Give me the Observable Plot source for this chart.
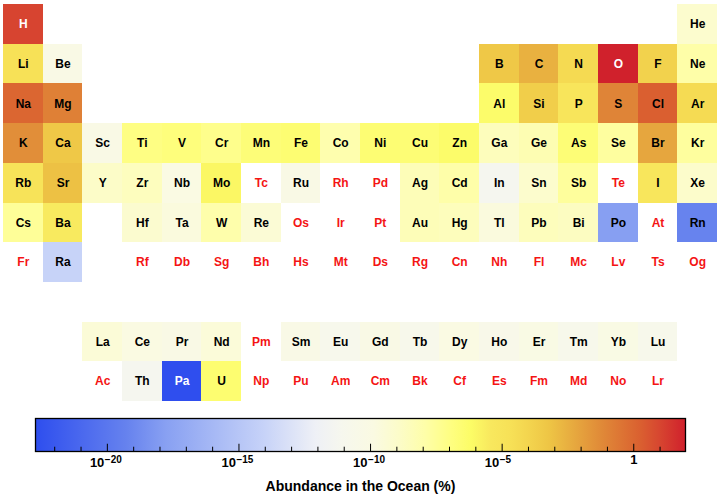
<!DOCTYPE html>
<html><head><meta charset="utf-8">
<script src="https://cdn.jsdelivr.net/npm/d3@7"></script>
<script src="https://cdn.jsdelivr.net/npm/@observablehq/plot@0.6"></script>
<style>
html,body{margin:0;padding:0;background:#fff;}
#chart svg{display:block;}
</style></head><body><div id="chart"></div>
<script>
// Element symbols in atomic-number order
const symbols = ["H","He","Li","Be","B","C","N","O","F","Ne","Na","Mg","Al","Si","P","S","Cl","Ar",
"K","Ca","Sc","Ti","V","Cr","Mn","Fe","Co","Ni","Cu","Zn","Ga","Ge","As","Se","Br","Kr",
"Rb","Sr","Y","Zr","Nb","Mo","Tc","Ru","Rh","Pd","Ag","Cd","In","Sn","Sb","Te","I","Xe",
"Cs","Ba","La","Ce","Pr","Nd","Pm","Sm","Eu","Gd","Tb","Dy","Ho","Er","Tm","Yb","Lu",
"Hf","Ta","W","Re","Os","Ir","Pt","Au","Hg","Tl","Pb","Bi","Po","At","Rn",
"Fr","Ra","Ac","Th","Pa","U","Np","Pu","Am","Cm","Bk","Cf","Es","Fm","Md","No","Lr",
"Rf","Db","Sg","Bh","Hs","Mt","Ds","Rg","Cn","Nh","Fl","Mc","Lv","Ts","Og"];

// Abundance in the ocean (%), null = no data
const abundance = [11, 7.2e-10, 1.8e-5, 6e-11, 4.4e-4, 2.8e-3, 5e-5, 86, 1.3e-4, 1.2e-8,
1.1, 0.13, 5e-7, 2.2e-4, 7e-6, 0.093, 1.9, 4.5e-5,
0.042, 4.2e-4, 6e-11, 1e-7, 1.5e-7, 6e-8, 2e-7, 3e-7, 8e-9, 2.8e-7, 2.5e-7, 5e-7, 3e-9, 6e-9, 2.3e-7, 2e-8, 6.7e-3, 2.1e-8,
1.2e-5, 8.1e-4, 1.3e-9, 2.6e-9, 1e-10, 1e-6, null, 7e-11, null, null, 4e-9, 1.1e-8, 5e-12, 8e-10, 2.4e-8, null, 6e-6, 1e-9,
3e-8, 3e-6, 3.4e-10, 1.2e-10, 6.4e-11, 2.8e-10, null, 4.5e-11, 1.3e-11, 7e-11, 1.4e-11, 9.1e-11, 2.2e-11, 8.7e-11, 1.7e-11, 8.2e-11, 1.5e-11,
7e-10, 2e-10, 1e-8, 4e-10, null, null, null, 4e-9, 3e-9, 2e-10, 3e-9, 2e-9, 1.5e-18, null, 6e-20,
null, 8.9e-15, null, 5e-12, 2e-23, 3.3e-7, null, null, null, null, null, null, null, null, null, null, null,
null, null, null, null, null, null, null, null, null, null, null, null, null, null, null];

const lightLabels = ["H", "O", "Pa"];

// Colour scale extent (log10 of %)
const logMin = -22.73, logMax = 1.966;
const decades = d3.range(-22, 2);
const majorDecades = [-20, -15, -10, -5];

// Temperature-map style ramp
const rampStops  = [0, 0.14, 0.20, 0.35, 0.43, 0.47, 0.52, 0.56, 0.60, 0.64, 0.67, 0.70, 0.73, 0.76, 0.79, 0.82, 0.87, 0.93, 0.96, 1];
const rampColors = ["#2e4eee","#6682ee","#88a0f2","#c6d2f8","#eef0f6","#f6f7ee","#fafae2","#fcfcc8","#fefea8","#fefe80","#fcfc66",
                    "#f8e85e","#f7e157","#f3d44e","#eec545","#e8af40","#e08a38","#da6030","#d74630","#d0202c"];
const ramp = d3.scaleLinear().domain(rampStops).range(rampColors).interpolate(d3.interpolateRgb).clamp(true);

function position(z) {
  if (z === 1) return [1, 1];
  if (z === 2) return [18, 1];
  if (z <= 10) return [z <= 4 ? z - 2 : z + 8, 2];
  if (z <= 18) return [z <= 12 ? z - 10 : z, 3];
  if (z <= 36) return [z - 18, 4];
  if (z <= 54) return [z - 36, 5];
  if (z >= 57 && z <= 71) return [z - 54, 9];
  if (z <= 86) return [z <= 56 ? z - 54 : z - 68, 6];
  if (z >= 89 && z <= 103) return [z - 86, 10];
  return [z <= 88 ? z - 86 : z - 100, 7];
}

const elements = symbols.map((s, i) => {
  const [group, period] = position(i + 1);
  return {symbol: s, group, period, value: abundance[i]};
});
const measured = elements.filter(d => d.value != null);
const missing = elements.filter(d => d.value == null);

const font = "'Liberation Sans', Arial, Helvetica, sans-serif";
const colorScale = {type: "log", domain: [10 ** logMin, 10 ** logMax], interpolate: t => ramp(t)};

const main = Plot.plot({
  width: 720, height: 406, margin: 0,
  style: {fontFamily: font, background: "white"},
  x: {type: "band", domain: d3.range(1, 19), range: [3, 717], padding: 0, round: false, axis: null},
  y: {type: "band", domain: d3.range(1, 11), range: [4, 401], padding: 0, round: false, axis: null},
  color: colorScale,
  marks: [
    Plot.cell(measured, {x: "group", y: "period", fill: "value", shapeRendering: "crispEdges"}),
    Plot.text(measured.filter(d => !lightLabels.includes(d.symbol)), {x: "group", y: "period", text: "symbol", fill: "black", fontSize: 12, fontWeight: "bold"}),
    Plot.text(measured.filter(d => lightLabels.includes(d.symbol)), {x: "group", y: "period", text: "symbol", fill: "white", fontSize: 12, fontWeight: "bold"}),
    Plot.text(missing, {x: "group", y: "period", text: "symbol", fill: "#f41414", fontSize: 12, fontWeight: "bold"})
  ]
});

const legend = Plot.plot({
  width: 720, height: 92,
  marginTop: 12, marginBottom: 47, marginLeft: 35, marginRight: 35,
  style: {fontFamily: font, background: "white"},
  x: {type: "log", domain: [10 ** logMin, 10 ** logMax], axis: null},
  y: {domain: [0, 1], axis: null},
  marks: [
    Plot.frame({fill: "url(#ramp)"}),
    Plot.ruleX(decades, {x: d => 10 ** d, y1: 0, y2: d => d % 5 === 0 ? 0.22 : 0.13, stroke: "black", strokeWidth: 1}),
    Plot.frame({stroke: "black", strokeWidth: 1.3}),
    Plot.text(majorDecades, {x: d => 10 ** d, text: () => "10", frameAnchor: "bottom", textAnchor: "end", dx: -3, dy: 15, fontSize: 13, fontWeight: "bold"}),
    Plot.text(majorDecades, {x: d => 10 ** d, text: d => "\u2212" + Math.abs(d), frameAnchor: "bottom", textAnchor: "start", dx: -2.5, dy: 11, fontSize: 10, fontWeight: "bold"}),
    Plot.text([0], {x: d => 10 ** d, text: () => "1", frameAnchor: "bottom", dy: 12, fontSize: 13, fontWeight: "bold"}),
    Plot.text(["Abundance in the Ocean (%)"], {text: d => d, frameAnchor: "bottom", dy: 39, fontSize: 14, fontWeight: "bold"})
  ]
});

const grad = d3.select(legend).insert("defs", ":first-child")
  .append("linearGradient").attr("id", "ramp")
  .attr("x1", "0%").attr("x2", "100%").attr("y1", "0%").attr("y2", "0%");
rampStops.forEach((t, i) => grad.append("stop").attr("offset", t).attr("stop-color", rampColors[i]));

document.getElementById("chart").append(main, legend);
</script></body></html>
